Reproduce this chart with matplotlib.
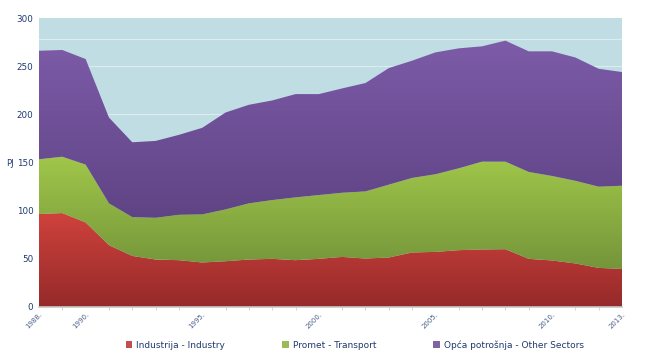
import numpy as np
import matplotlib
matplotlib.use("Agg")
import matplotlib.pyplot as plt
from matplotlib.colors import LinearSegmentedColormap
from matplotlib.patches import Patch

years = list(range(1988, 2014))

# values (PJ), stacked order: industry, transport, other
industry = [96.5, 97.5, 87.8, 64.2, 53.0, 49.3, 48.6, 46.2, 47.5, 49.3, 50.0, 48.6, 50.0,
            52.0, 50.3, 51.4, 56.6, 57.2, 59.0, 59.7, 60.0, 50.0, 48.3, 45.2, 40.6, 39.5]
ind_transport = [153.4, 156.0, 147.8, 107.6, 93.3, 92.6, 95.7, 96.1, 101.3, 107.6, 111.0, 113.8, 116.2,
                 118.6, 120.0, 127.0, 134.0, 137.8, 144.0, 150.9, 150.9, 140.2, 136.0, 131.0, 124.9, 125.9]
total = [266.0, 266.8, 257.4, 196.7, 171.0, 172.4, 178.7, 186.0, 201.9, 209.9, 214.4, 221.0, 221.0,
         226.9, 232.5, 248.0, 255.7, 264.3, 268.5, 270.6, 276.5, 265.4, 265.4, 259.0, 247.3, 243.9]

transport = [b - a for a, b in zip(industry, ind_transport)]
other = [c - b for b, c in zip(ind_transport, total)]

labels = ["Industrija - Industry", "Promet - Transport", "Opća potrošnja - Other Sectors"]
xtick_years = [1988, 1990, 1995, 2000, 2005, 2010, 2013]

text_col = "#1f3a6e"
bg_col = "#bfdde3"
legend_cols = ["#c0504d", "#9bbb59", "#8064a2"]
grad_cols = [("#cf423c", "#952a2a"), ("#a0c74a", "#75953a"), ("#7d5ba8", "#5f4485")]


def gradient_fill(ax, x, lo, hi, top, bottom):
    poly = ax.fill_between(x, lo, hi, color=top, lw=0)
    cmap = LinearSegmentedColormap.from_list("g", [bottom, top])
    grad = np.linspace(0, 1, 256).reshape(-1, 1)
    im = ax.imshow(grad, cmap=cmap, aspect="auto", origin="lower",
                   extent=[x[0], x[-1], min(lo), max(hi)], zorder=poly.get_zorder())
    im.set_clip_path(poly.get_paths()[0], transform=ax.transData)
    poly.set_alpha(0)


fig = plt.figure(figsize=(6.66, 3.62), dpi=100)
ax = fig.add_axes([39 / 666, 1 - 307 / 362, 583 / 666, 289 / 362])
ax.set_facecolor(bg_col)

x = np.array(years, dtype=float)
base = np.zeros(len(years))
tops = [np.array(industry), np.array(ind_transport), np.array(total)]
for i in range(3):
    gradient_fill(ax, x, base, tops[i], grad_cols[i][0], grad_cols[i][1])
    base = tops[i]

for g in [50, 100, 150, 200, 250, 278]:
    ax.axhline(g, color="#dcecef", lw=0.8, zorder=0.5)

ax.set_xlim(1988, 2013)
ax.set_ylim(0, 300)
ax.set_yticks(range(0, 301, 50))
ax.set_xticks(xtick_years)
ax.set_xticklabels([f"{y}." for y in xtick_years], rotation=45, ha="right",
                   rotation_mode="anchor", fontsize=5, color="#4a5f8a")
ax.set_xticks(years, minor=True)
ax.tick_params(axis="y", length=0, labelsize=6.3, colors=text_col, pad=4)
ax.tick_params(axis="x", which="major", length=0, pad=3)
ax.tick_params(axis="x", which="minor", length=2, color="#d0d0d0")
for s in ["top", "right", "left"]:
    ax.spines[s].set_visible(False)
ax.spines["bottom"].set_color("#c8c8c8")
ax.spines["bottom"].set_linewidth(1.2)

fig.text(6 / 666, 1 - 163 / 362, "PJ", fontsize=6, color=text_col, va="center")

handles = [Patch(facecolor=c, edgecolor="none") for c in legend_cols]
fig.legend(handles, labels, loc="center", bbox_to_anchor=(0.533, 1 - 345 / 362), ncol=3,
           frameon=False, fontsize=6.5, labelcolor=text_col, handlelength=0.7, handleheight=0.7,
           handletextpad=0.5, columnspacing=6.3)

fig.savefig("out.png", dpi=100)
